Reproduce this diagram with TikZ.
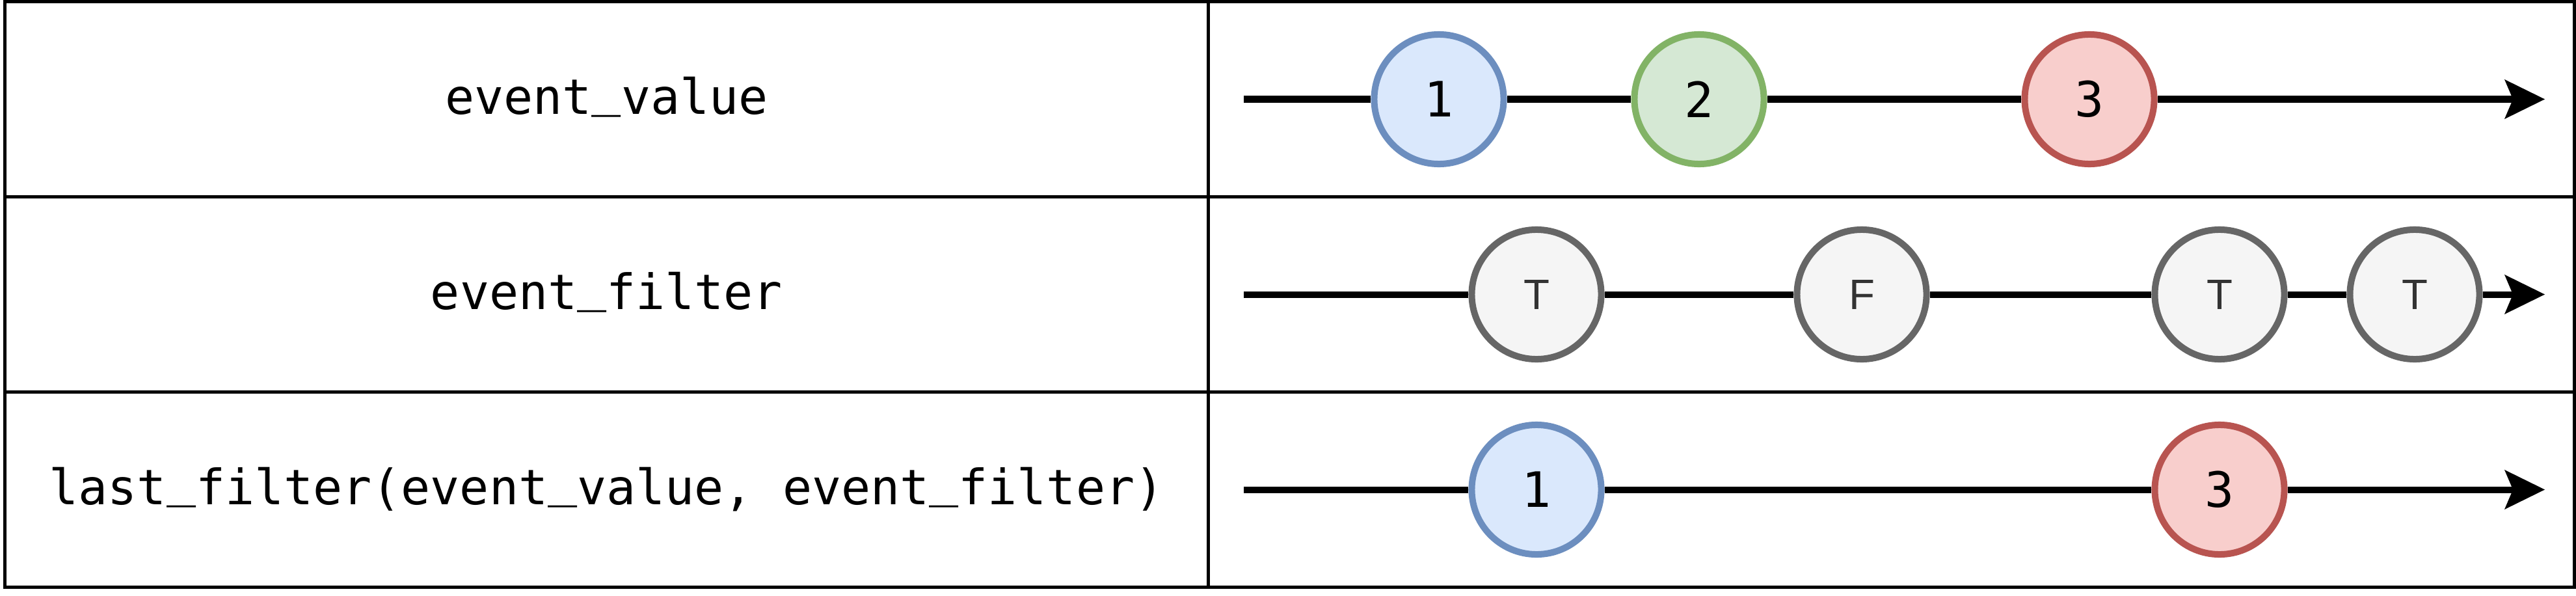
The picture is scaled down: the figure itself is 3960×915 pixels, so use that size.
\documentclass[tikz,border=0pt]{standalone}
\usepackage{fontspec}
\setmainfont{Liberation Sans}
\setmonofont{DejaVu Sans Mono}
\usetikzlibrary{arrows.meta}
\definecolor{bluefill}{HTML}{DAE8FC}
\definecolor{blueline}{HTML}{6C8EBF}
\definecolor{greenfill}{HTML}{D5E8D4}
\definecolor{greenline}{HTML}{82B366}
\definecolor{redfill}{HTML}{F8CECC}
\definecolor{redline}{HTML}{B85450}
\definecolor{grayfill}{HTML}{F5F5F5}
\definecolor{grayline}{HTML}{666666}
\definecolor{graytext}{HTML}{333333}
\newcommand\myus{\raisebox{0.17em}{\_}}
\tikzset{
  gridline/.style={line width=0.055cm, draw=black},
  lbl/.style={anchor=base, inner sep=0pt, font=\ttfamily\fontsize{21.3pt}{25pt}\selectfont},
  ev/.style={circle, minimum size=1.99cm, inner sep=0pt, line width=0.1cm,
    font=\ttfamily\fontsize{21.3pt}{25pt}\selectfont},
  evblue/.style={ev, draw=blueline, fill=bluefill},
  evgreen/.style={ev, draw=greenline, fill=greenfill},
  evred/.style={ev, draw=redline, fill=redfill},
  evgray/.style={ev, draw=grayline, fill=grayfill, text=graytext,
    font=\rmfamily\fontsize{18.6pt}{22pt}\selectfont},
  timeline/.style={line width=0.1cm, draw=black,
    -{Stealth[length=0.62cm, width=0.61cm, inset=0.13cm, line width=0pt]}}
}
\begin{document}
\begin{tikzpicture}[x=0.01cm, y=-0.01cm]
\useasboundingbox (0,0) rectangle (3960,915);
% table
\draw[gridline] (7.5,2.5) rectangle (3957.5,902.5);
\draw[gridline] (7.5,302.5) -- (3957.5,302.5);
\draw[gridline] (7.5,602.5) -- (3957.5,602.5);
\draw[gridline] (1857.5,2.5) -- (1857.5,902.5);
% labels
\node[lbl] (l1) at (932.5,175) {event\myus value};
\node[lbl] (l2) at (932.5,475) {event\myus filter};
\node[lbl] (l3) at (932.5,775) {last\myus filter(event\myus value, event\myus filter)};
% row 1
\coordinate (s1) at (1912,152.5);
\coordinate (e1) at (3912,152.5);
\node[evblue]  (a1) at (2212,152.5) {1};
\node[evgreen] (a2) at (2612,152.5) {2};
\node[evred]   (a3) at (3212,152.5) {3};
\draw[timeline] (s1) -- (a1) -- (a2) -- (a3) -- (e1);
% row 2
\coordinate (s2) at (1912,452.5);
\coordinate (e2) at (3912,452.5);
\node[evgray] (b1) at (2362,452.5) {T};
\node[evgray] (b2) at (2862,452.5) {F};
\node[evgray] (b3) at (3412,452.5) {T};
\node[evgray] (b4) at (3712,452.5) {T};
\draw[timeline] (s2) -- (b1) -- (b2) -- (b3) -- (b4) -- (e2);
% row 3
\coordinate (s3) at (1912,752.5);
\coordinate (e3) at (3912,752.5);
\node[evblue] (c1) at (2362,752.5) {1};
\node[evred]  (c2) at (3412,752.5) {3};
\draw[timeline] (s3) -- (c1) -- (c2) -- (e3);
\end{tikzpicture}
\end{document}
